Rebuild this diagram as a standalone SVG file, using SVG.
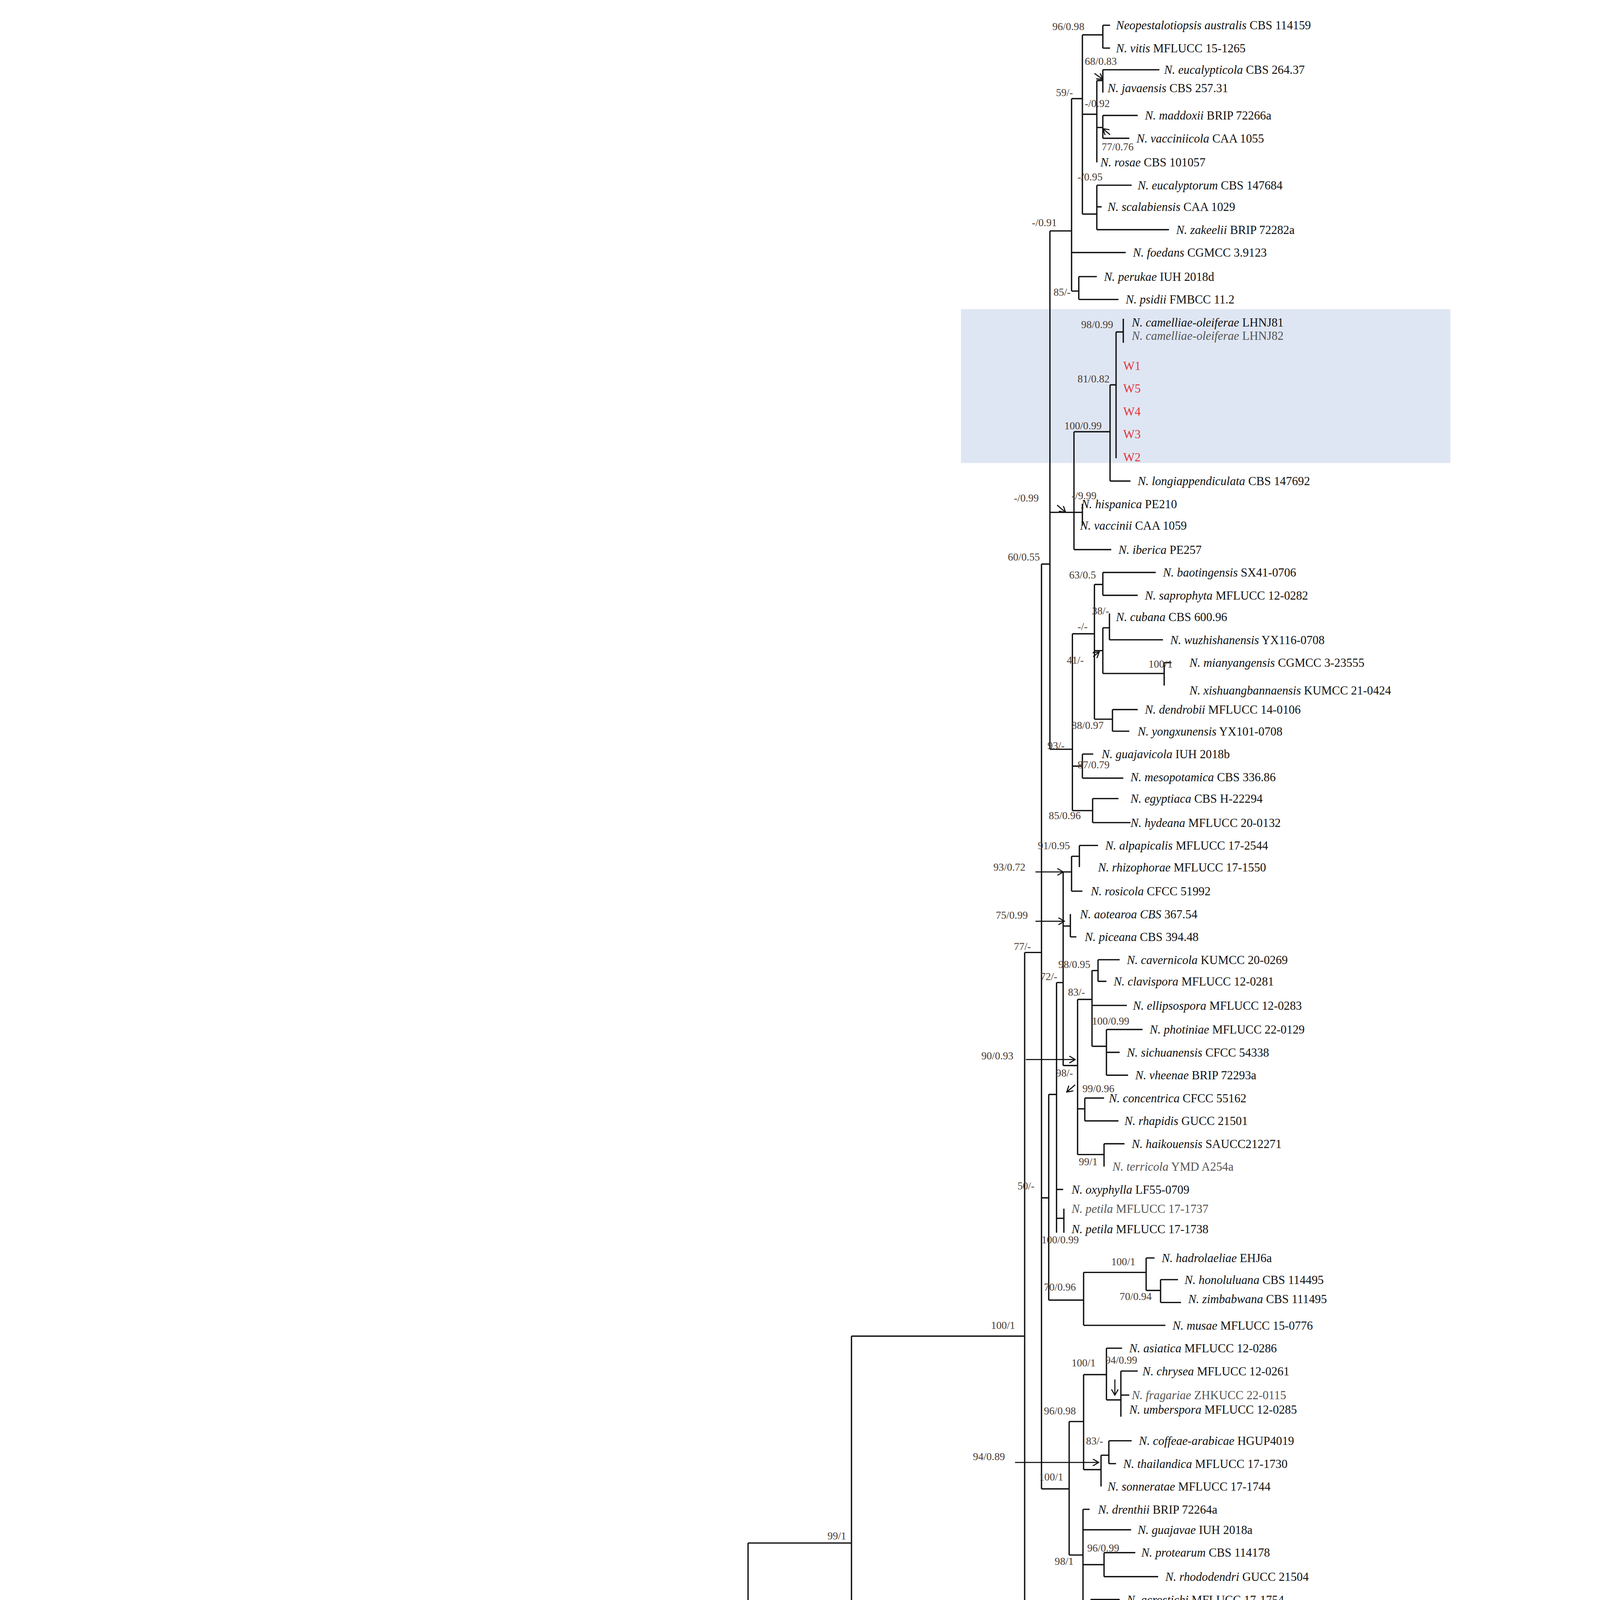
<svg xmlns="http://www.w3.org/2000/svg" width="4104" height="4842" viewBox="0 0 4104 4842">
<style>
.t{font-family:"Liberation Serif",serif;font-size:10px;fill:#111}
.g{fill:#555}
.w{fill:#e0353a}
.s{font-family:"Liberation Serif",serif;font-size:8.8px;fill:#4a3a30}
.e{stroke:#111;stroke-width:1.1;fill:none}
.a{stroke:#111;stroke-width:0.9;fill:none}
</style>
<defs><marker id="ah" markerWidth="6" markerHeight="6" refX="5" refY="3" orient="auto" markerUnits="userSpaceOnUse"><path d="M0,0 L5,3 L0,6" fill="none" stroke="#111" stroke-width="0.9"/></marker></defs>
<rect width="4104" height="4842" fill="#fff"/>
<g transform="scale(3.0788)">
<rect id="highlight" x="799" y="257" width="407" height="128" fill="#dfe6f3"/>
<g id="connectors">
<path class="e" d="M917 21V40M917 21H923M917 40H923M900 29H917M900 29V178M900 95H912M912 67V135M912 67H917M917 58V77M917 58H964M912 106H917M917 96V115M917 96H946M917 115H939M900 178H912M912 154V191M912 154H941M912 172H916M912 191H972M891 82H900M891 82V242M891 210H936M891 242H897M897 230V249M897 230H912M897 249H930M873 192H891M873 192V623
M928 276H934M934 265V285M928 276V381M923 320H928M923 320V400M923 400H940M893 359H923M893 359V457M893 457H924M873 426H900M900 419V437M866 469H873
M917 476V495M917 476H961M917 495H946M910 486H917M910 486V598M922.5 510V532M922.5 532H967M917 522H922.5M917 522V560M917 560H968M968 551V570M968 551H974M910 541H917M910 598H925M925 590V608M925 590H946M925 608H939M891.7 527H910M891.7 527V674M873 623H891.7M891.7 637H900M900 627V647M900 627H909M900 647H934M891.7 674H908.5M908.5 664V684M908.5 664H930M908.5 684H940
M866 469V1238M897.5 703V721M897.5 703H913M891 712H897.5M891 712V741M891 741H900M884 725H891M884 725V886M890 760V779M890 779H895M884 770H890M852 792H866M852 792V1430
M878.5 817H884M878.5 817V1025M913 798V816M913 798H931M913 816H920M908 807H913M908 807V870M896 831H908M908 836H937M908 870H920M920 856V894M920 856H950M920 875H931M920 894H938M896 831V960M884 886H896M896 922H902M902 913V932M902 913H918M902 932H930M896 960H918M918 951V970M918 951H935M872 910H878.5M872 910V1081M866 996H872M878.5 989H884M878.5 1013H884.6M884.6 1005V1025
M953 1046V1073M953 1046H960M953 1073H965M965 1064V1083M965 1064H979.5M965 1083H982M901 1058H953M901 1058V1102M901 1102H969M872 1081H901M708 1111H852
M920 1121V1164M920 1121H933M901 1143H920M920 1164H932M932 1140V1178M932 1140H946M932 1160H939M901 1143V1222M889 1182H901M922 1198V1217M922 1198H941M922 1217H928M915.5 1210H922M915.5 1210V1236M901 1222H915.5M866 1238H889M889 1182V1293M889 1293H900.5M900.5 1255V1345M900.5 1255H906M900.5 1272H940.5M900.5 1301H918M918 1291V1311M918 1291H944M918 1311H963M900.5 1345H907M907 1330V1369M907 1330H931M907 1350H931M907 1369H924
M1188.7 1388V1408M1188.7 1388H1208.7M1096 1397H1188.7M1096 1397V1427M1096 1427H1149M881.5 1412H1096M881.5 1412V1446M881.5 1446H1135M852 1430H881.5
M708 1111V1465M708 1465H1052M622 1283H708M622 1283V1486M28 1385H622M622 1486H667M667 1484V1502M667 1484H1079M667 1502H820M28 1385V1518M28 1518H625M14 1450H28M501 1543H718"/>
<path class="a" marker-end="url(#ah)" d="M861 725H884"/>
<path class="a" marker-end="url(#ah)" d="M861 766H885"/>
<path class="a" marker-end="url(#ah)" d="M853 881H894"/>
<path class="a" marker-end="url(#ah)" d="M844 1216H913.5"/>
<path class="a" marker-end="url(#ah)" d="M927 1147V1160"/>
<path class="a" marker-end="url(#ah)" d="M894 902L887 908"/>
<path class="a" marker-end="url(#ah)" d="M910 61L917 66"/>
<path class="a" marker-end="url(#ah)" d="M923 112L917 107"/>
<path class="a" marker-end="url(#ah)" d="M879 420L886 426"/>
<path class="a" marker-end="url(#ah)" d="M909 546L914 542"/>
</g>
<g id="support">
<text class="s" x="875" y="25">96/0.98</text>
<text class="s" x="902" y="54">68/0.83</text>
<text class="s" x="902" y="89">-/0.92</text>
<text class="s" x="916" y="125">77/0.76</text>
<text class="s" x="878" y="80">59/-</text>
<text class="s" x="896" y="150">-/0.95</text>
<text class="s" x="858" y="188">-/0.91</text>
<text class="s" x="876" y="246">85/-</text>
<text class="s" x="899" y="273">98/0.99</text>
<text class="s" x="896" y="318">81/0.82</text>
<text class="s" x="885" y="357">100/0.99</text>
<text class="s" x="843" y="417">-/0.99</text>
<text class="s" x="891" y="415">-/9.99</text>
<text class="s" x="838" y="466">60/0.55</text>
<text class="s" x="889" y="481">63/0.5</text>
<text class="s" x="908" y="511">38/-</text>
<text class="s" x="896" y="524">-/-</text>
<text class="s" x="887" y="552">41/-</text>
<text class="s" x="955" y="555">100/1</text>
<text class="s" x="891" y="606">88/0.97</text>
<text class="s" x="871" y="623">93/-</text>
<text class="s" x="896" y="639">87/0.79</text>
<text class="s" x="872" y="681">85/0.96</text>
<text class="s" x="863" y="706">91/0.95</text>
<text class="s" x="826" y="724">93/0.72</text>
<text class="s" x="828" y="764">75/0.99</text>
<text class="s" x="843" y="790">77/-</text>
<text class="s" x="880" y="805">98/0.95</text>
<text class="s" x="865" y="815">72/-</text>
<text class="s" x="888" y="828">83/-</text>
<text class="s" x="908" y="852">100/0.99</text>
<text class="s" x="816" y="881">90/0.93</text>
<text class="s" x="878" y="895">98/-</text>
<text class="s" x="900" y="908">99/0.96</text>
<text class="s" x="897" y="969">99/1</text>
<text class="s" x="846" y="989">50/-</text>
<text class="s" x="866" y="1034">100/0.99</text>
<text class="s" x="924" y="1052">100/1</text>
<text class="s" x="868" y="1073">70/0.96</text>
<text class="s" x="931" y="1081">70/0.94</text>
<text class="s" x="824" y="1105">100/1</text>
<text class="s" x="891" y="1136">100/1</text>
<text class="s" x="919" y="1134">94/0.99</text>
<text class="s" x="868" y="1176">96/0.98</text>
<text class="s" x="903" y="1201">83/-</text>
<text class="s" x="809" y="1214">94/0.89</text>
<text class="s" x="864" y="1231">100/1</text>
<text class="s" x="904" y="1290">96/0.99</text>
<text class="s" x="877" y="1301">98/1</text>
<text class="s" x="884" y="1351">79/-</text>
<text class="s" x="1160" y="1391">100/1</text>
<text class="s" x="1067" y="1405">100/1</text>
<text class="s" x="846" y="1424">95/0.95</text>
<text class="s" x="688" y="1280">99/1</text>
<text class="s" x="648" y="1484">72/1</text>
</g>
<g id="taxa">
<g id="t1"><text class="t" x="928" y="24.5"><tspan font-style="italic">Neopestalotiopsis australis</tspan> CBS 114159</text></g>
<g id="t2"><text class="t" x="928" y="43.5"><tspan font-style="italic">N. vitis</tspan> MFLUCC 15-1265</text></g>
<g id="t3"><text class="t" x="968" y="61.5"><tspan font-style="italic">N. eucalypticola</tspan> CBS 264.37</text></g>
<g id="t4"><text class="t" x="921" y="76.5"><tspan font-style="italic">N. javaensis</tspan> CBS 257.31</text></g>
<g id="t5"><text class="t" x="952" y="99.5"><tspan font-style="italic">N. maddoxii</tspan> BRIP 72266a</text></g>
<g id="t6"><text class="t" x="945" y="118.5"><tspan font-style="italic">N. vacciniicola</tspan> CAA 1055</text></g>
<g id="t7"><text class="t" x="915" y="138.5"><tspan font-style="italic">N. rosae</tspan> CBS 101057</text></g>
<g id="t8"><text class="t" x="946" y="157.5"><tspan font-style="italic">N. eucalyptorum</tspan> CBS 147684</text></g>
<g id="t9"><text class="t" x="921" y="175.5"><tspan font-style="italic">N. scalabiensis</tspan> CAA 1029</text></g>
<g id="t10"><text class="t" x="978" y="194.5"><tspan font-style="italic">N. zakeelii</tspan> BRIP 72282a</text></g>
<g id="t11"><text class="t" x="942" y="213.5"><tspan font-style="italic">N. foedans</tspan> CGMCC 3.9123</text></g>
<g id="t12"><text class="t" x="918" y="233.5"><tspan font-style="italic">N. perukae</tspan> IUH 2018d</text></g>
<g id="t13"><text class="t" x="936" y="252.5"><tspan font-style="italic">N. psidii</tspan> FMBCC 11.2</text></g>
<g id="t14"><text class="t" x="941" y="271.5"><tspan font-style="italic">N. camelliae-oleiferae</tspan> LHNJ81</text></g>
<g id="t15"><text class="t g" x="941" y="282.5"><tspan font-style="italic">N. camelliae-oleiferae</tspan> LHNJ82</text></g>
<g id="W1"><text class="t w" x="934" y="307.5">W1</text></g>
<g id="W5"><text class="t w" x="934" y="326.5">W5</text></g>
<g id="W4"><text class="t w" x="934" y="345.5">W4</text></g>
<g id="W3"><text class="t w" x="934" y="364.5">W3</text></g>
<g id="W2"><text class="t w" x="934" y="383.5">W2</text></g>
<g id="t16"><text class="t" x="946" y="403.5"><tspan font-style="italic">N. longiappendiculata</tspan> CBS 147692</text></g>
<g id="t17"><text class="t" x="899" y="422.5"><tspan font-style="italic">N. hispanica</tspan> PE210</text></g>
<g id="t18"><text class="t" x="898" y="440.5"><tspan font-style="italic">N. vaccinii</tspan> CAA 1059</text></g>
<g id="t19"><text class="t" x="930" y="460.5"><tspan font-style="italic">N. iberica</tspan> PE257</text></g>
<g id="t20"><text class="t" x="967" y="479.5"><tspan font-style="italic">N. baotingensis</tspan> SX41-0706</text></g>
<g id="t21"><text class="t" x="952" y="498.5"><tspan font-style="italic">N. saprophyta</tspan> MFLUCC 12-0282</text></g>
<g id="t22"><text class="t" x="928" y="516.5"><tspan font-style="italic">N. cubana</tspan> CBS 600.96</text></g>
<g id="t23"><text class="t" x="973" y="535.5"><tspan font-style="italic">N. wuzhishanensis</tspan> YX116-0708</text></g>
<g id="t24"><text class="t" x="989" y="554.5"><tspan font-style="italic">N. mianyangensis</tspan> CGMCC 3-23555</text></g>
<g id="t25"><text class="t" x="989" y="577.5"><tspan font-style="italic">N. xishuangbannaensis</tspan> KUMCC 21-0424</text></g>
<g id="t26"><text class="t" x="952" y="593.5"><tspan font-style="italic">N. dendrobii</tspan> MFLUCC 14-0106</text></g>
<g id="t27"><text class="t" x="946" y="611.5"><tspan font-style="italic">N. yongxunensis</tspan> YX101-0708</text></g>
<g id="t28"><text class="t" x="916" y="630.5"><tspan font-style="italic">N. guajavicola</tspan> IUH 2018b</text></g>
<g id="t29"><text class="t" x="940" y="649.5"><tspan font-style="italic">N. mesopotamica</tspan> CBS 336.86</text></g>
<g id="t30"><text class="t" x="940" y="667.5"><tspan font-style="italic">N. egyptiaca</tspan> CBS H-22294</text></g>
<g id="t31"><text class="t" x="940" y="687.5"><tspan font-style="italic">N. hydeana</tspan> MFLUCC 20-0132</text></g>
<g id="t32"><text class="t" x="919" y="706.5"><tspan font-style="italic">N. alpapicalis</tspan> MFLUCC 17-2544</text></g>
<g id="t33"><text class="t" x="913" y="724.5"><tspan font-style="italic">N. rhizophorae</tspan> MFLUCC 17-1550</text></g>
<g id="t34"><text class="t" x="907" y="744.5"><tspan font-style="italic">N. rosicola</tspan> CFCC 51992</text></g>
<g id="t35"><text class="t" x="898" y="763.5"><tspan font-style="italic">N. aotearoa CBS</tspan> 367.54</text></g>
<g id="t36"><text class="t" x="902" y="782.5"><tspan font-style="italic">N. piceana</tspan> CBS 394.48</text></g>
<g id="t37"><text class="t" x="937" y="801.5"><tspan font-style="italic">N. cavernicola</tspan> KUMCC 20-0269</text></g>
<g id="t38"><text class="t" x="926" y="819.5"><tspan font-style="italic">N. clavispora</tspan> MFLUCC 12-0281</text></g>
<g id="t39"><text class="t" x="942" y="839.5"><tspan font-style="italic">N. ellipsospora</tspan> MFLUCC 12-0283</text></g>
<g id="t40"><text class="t" x="956" y="859.5"><tspan font-style="italic">N. photiniae</tspan> MFLUCC 22-0129</text></g>
<g id="t41"><text class="t" x="937" y="878.5"><tspan font-style="italic">N. sichuanensis</tspan> CFCC 54338</text></g>
<g id="t42"><text class="t" x="944" y="897.5"><tspan font-style="italic">N. vheenae</tspan> BRIP 72293a</text></g>
<g id="t43"><text class="t" x="922" y="916.5"><tspan font-style="italic">N. concentrica</tspan> CFCC 55162</text></g>
<g id="t44"><text class="t" x="935" y="935.5"><tspan font-style="italic">N. rhapidis</tspan> GUCC 21501</text></g>
<g id="t45"><text class="t" x="941" y="954.5"><tspan font-style="italic">N. haikouensis</tspan> SAUCC212271</text></g>
<g id="t46"><text class="t g" x="925" y="973.5"><tspan font-style="italic">N. terricola</tspan> YMD A254a</text></g>
<g id="t47"><text class="t" x="891" y="992.5"><tspan font-style="italic">N. oxyphylla</tspan> LF55-0709</text></g>
<g id="t48"><text class="t g" x="891" y="1008.5"><tspan font-style="italic">N. petila</tspan> MFLUCC 17-1737</text></g>
<g id="t49"><text class="t" x="891" y="1025.5"><tspan font-style="italic">N. petila</tspan> MFLUCC 17-1738</text></g>
<g id="t50"><text class="t" x="966" y="1049.5"><tspan font-style="italic">N. hadrolaeliae</tspan> EHJ6a</text></g>
<g id="t51"><text class="t" x="985" y="1067.5"><tspan font-style="italic">N. honoluluana</tspan> CBS 114495</text></g>
<g id="t52"><text class="t" x="988" y="1083.5"><tspan font-style="italic">N. zimbabwana</tspan> CBS 111495</text></g>
<g id="t53"><text class="t" x="975" y="1105.5"><tspan font-style="italic">N. musae</tspan> MFLUCC 15-0776</text></g>
<g id="t54"><text class="t" x="939" y="1124.5"><tspan font-style="italic">N. asiatica</tspan> MFLUCC 12-0286</text></g>
<g id="t55"><text class="t" x="950" y="1143.5"><tspan font-style="italic">N. chrysea</tspan> MFLUCC 12-0261</text></g>
<g id="t56"><text class="t g" x="941" y="1163.5"><tspan font-style="italic">N. fragariae</tspan> ZHKUCC 22-0115</text></g>
<g id="t57"><text class="t" x="939" y="1175.5"><tspan font-style="italic">N. umberspora</tspan> MFLUCC 12-0285</text></g>
<g id="t58"><text class="t" x="947" y="1201.5"><tspan font-style="italic">N. coffeae-arabicae</tspan> HGUP4019</text></g>
<g id="t59"><text class="t" x="934" y="1220.5"><tspan font-style="italic">N. thailandica</tspan> MFLUCC 17-1730</text></g>
<g id="t60"><text class="t" x="921" y="1239.5"><tspan font-style="italic">N. sonneratae</tspan> MFLUCC 17-1744</text></g>
<g id="t61"><text class="t" x="913" y="1258.5"><tspan font-style="italic">N. drenthii</tspan> BRIP 72264a</text></g>
<g id="t62"><text class="t" x="946" y="1275.5"><tspan font-style="italic">N. guajavae</tspan> IUH 2018a</text></g>
<g id="t63"><text class="t" x="949" y="1294.5"><tspan font-style="italic">N. protearum</tspan> CBS 114178</text></g>
<g id="t64"><text class="t" x="969" y="1314.5"><tspan font-style="italic">N. rhododendri</tspan> GUCC 21504</text></g>
<g id="t65"><text class="t" x="937" y="1333.5"><tspan font-style="italic">N. acrostichi</tspan> MFLUCC 17-1754</text></g>
<g id="t66"><text class="t" x="937" y="1353.5"><tspan font-style="italic">N. nebuloides</tspan> BRIP 66617</text></g>
<g id="t67"><text class="t" x="931" y="1372.5"><tspan font-style="italic">N. surinamensis</tspan> CBS 450.74</text></g>
<g id="t68"><text class="t" x="1214" y="1391.5"><tspan font-style="italic">N. amomi</tspan> HKAS 124563</text></g>
<g id="t69"><text class="t" x="1184" y="1411.5"><tspan font-style="italic">N. olivaceous</tspan> LF25-0709</text></g>
<g id="t70"><text class="t" x="1155" y="1430.5"><tspan font-style="italic">N. zingiberis</tspan> GUCC 21001</text></g>
<g id="t71"><text class="t" x="1141" y="1449.5"><tspan font-style="italic">N. magna</tspan> MFLUCC 12-652</text></g>
<g id="t72"><text class="t" x="1057" y="1468.5"><tspan font-style="italic">N. iranensis</tspan> CBS 137768</text></g>
<g id="t73"><text class="t" x="1084" y="1487.5"><tspan font-style="italic">N. natalensis</tspan> CBS 138.41</text></g>
<g id="t74"><text class="t" x="828" y="1505.5"><tspan font-style="italic">N. steyaertii</tspan> IMI 192475</text></g>
<g id="t75"><text class="t" x="632" y="1521.5"><tspan font-style="italic">Pseudopestalotiopsis ampullacea</tspan> LC6618</text></g>
<g id="scale"><text class="t" x="609" y="1561" text-anchor="middle">0.03</text></g>
</g>
</g>
</svg>
